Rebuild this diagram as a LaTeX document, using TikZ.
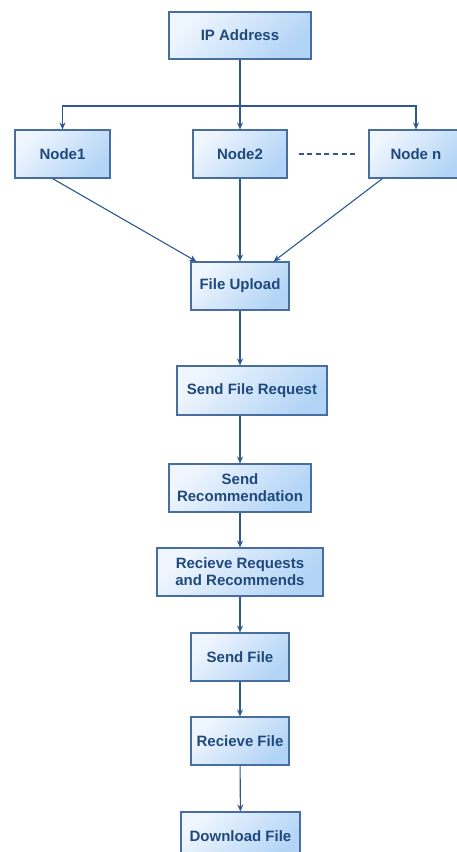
\documentclass[tikz,border=0pt]{standalone}
\usepackage{fontspec}
\setmainfont{Liberation Sans}
\usetikzlibrary{arrows.meta}
\definecolor{boxedge}{RGB}{72,110,160}
\definecolor{boxtext}{RGB}{31,73,125}
\definecolor{boxlight}{RGB}{240,246,254}
\definecolor{boxdark}{RGB}{178,212,246}
\definecolor{flow}{RGB}{45,88,145}
\begin{document}
\begin{tikzpicture}[x=1pt, y=-1pt, >={Stealth[length=7pt,width=6pt]},
    box/.style={draw=boxedge, line width=1.1pt, rectangle, top color=boxlight, bottom color=boxdark, shading angle=45,
        minimum height=48pt, inner sep=2pt, align=center, text=boxtext,
        font=\fontsize{15}{17}\selectfont\bfseries},
    flowline/.style={flow, line width=1.1pt}]
        \useasboundingbox (0,0) rectangle (457,852);
        \clip (0,0) rectangle (457,852);

        % Source
        \node[box, minimum width=142pt, minimum height=47pt] (ip) at (240,35.5) {IP Address};

        % Nodes
        \node[box, minimum width=95pt] (node1) at (62.5,154) {Node1};
        \node[box, minimum width=94pt] (node2) at (240,154) {Node2};
        \node[box, minimum width=94pt] (noden) at (416,154) {Node n};
        \coordinate (bus) at (240,106);

        % Steps
        \node[box, minimum width=98pt] (upload) at (240,286) {File Upload};
        \node[box, minimum width=150pt, minimum height=49pt] (request) at (252,390.5) {Send File Request};
        \node[box, minimum width=142pt] (recommend) at (240,488) {Send\\Recommendation};
        \node[box, minimum width=166pt] (receivereq) at (240,572) {Recieve Requests\\and Recommends};
        \node[box, minimum width=98pt] (sendfile) at (240,657) {Send File};
        \node[box, minimum width=98pt] (receivefile) at (240,741) {Recieve File};
        \node[box, minimum width=119pt] (download) at (240.5,836) {Download File};

        % Split to nodes
        \draw[flowline, ->] (ip) -- (node2);
        \draw[flowline, ->] (bus) -| (node1);
        \draw[flowline, ->] (bus) -| (noden);
        \draw[flow, line width=1.8pt, dash pattern=on 5pt off 3.6pt, shorten <=11pt, shorten >=12pt] (node2) -- (noden);

        % Merge into upload
        \draw[flowline, ->] ([xshift=-10pt]node1.south) -- ([xshift=6pt]upload.north west);
        \draw[flowline, ->] (node2) -- (upload);
        \draw[flowline, ->] ([xshift=14pt]noden.south west) -- ([xshift=-16pt]upload.north east);

        % Chain
        \draw[flowline, ->] (upload) -- (upload |- request.north);
        \draw[flowline, ->] (request.south -| recommend) -- (recommend);
        \draw[flowline, ->] (recommend) -- (receivereq);
        \draw[flowline, ->] (receivereq) -- (sendfile);
        \draw[flowline, ->] (sendfile) -- (receivefile);
        \draw[flowline, ->] (receivefile) -- (download);
    \end{tikzpicture}
\end{document}
